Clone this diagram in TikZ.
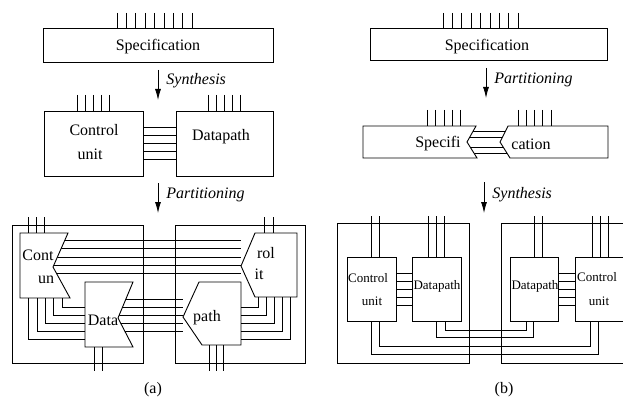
\documentclass[tikz,border=0pt]{standalone}
\usepackage{fontspec}
\setmainfont{Liberation Serif}
\newfontfamily\timesfont{Liberation Serif}
\usepackage{tikz}
\usetikzlibrary{arrows.meta}

\begin{document}
\begin{tikzpicture}[x=1pt,y=-1pt,line width=0.9pt,
    every node/.style={inner sep=0pt,font=\timesfont\fontsize{16}{18}\selectfont},
    box/.style={draw,fill=white},
    piece/.style={draw,fill=white},
    small/.style={font=\timesfont\fontsize{13}{15}\selectfont},
    lbl/.style={font=\timesfont\fontsize{16}{18}\selectfont\itshape,anchor=west,xshift=8pt},
    flow/.style={-{Latex[length=11pt,width=6pt]},line width=0.8pt}]

    \useasboundingbox (0,0) rectangle (623,406);
    \clip (0,0) rectangle (623,406);

    % (a) top
    \node[box,minimum width=230pt,minimum height=34pt] (specA) at (158,45) {};
    \node (specAt) at (158,47) {Specification};
    \foreach \x in {0,...,8}
        \draw (117+\x*9.4,13) -- (117+\x*9.4,28);
    \coordinate (synA) at (158,70);
    \draw[flow] (synA) -- ++(0,30) node[lbl,pos=0.35] (synAt) {Synthesis};

    \node[box,minimum width=99pt,minimum height=65pt] (cuA) at (93.5,143.5) {};
    \node[box,minimum width=97pt,minimum height=65pt] (dpA) at (224.5,143.5) {};
    \node (cuAt1) at (94,130) {Control};
    \node (cuAt2) at (90,154) {unit};
    \node (dpAt) at (221,137) {Datapath};
    \foreach \x in {0,...,4} {
        \draw (77+\x*8.2,95) -- (77+\x*8.2,111);
        \draw (208+\x*8,95) -- (208+\x*8,111);
    }
    \foreach \d in {-16,-8,0,8,16}
        \draw ([yshift=\d pt]cuA.east) -- ([yshift=\d pt]dpA.west);
    \coordinate (parA) at (158,183);
    \draw[flow] (parA) -- ++(0,30) node[lbl,pos=0.4] (parAt) {Partitioning};

    % (a) bottom
    \node[draw,minimum width=131pt,minimum height=138pt] (outA1) at (77.5,294) {};
    \node[draw,minimum width=130pt,minimum height=138pt] (outA2) at (240,294) {};
    \foreach \y in {240,248,257,265,273}
        \draw (53,\y) -- (241,\y);
    \foreach \y in {299,307,315,323,331}
        \draw (118,\y) -- (183,\y);
    \draw[piece] (20,233) -- (68,233) -- (53,267) -- (70,298) -- (20,298) -- cycle;
    \draw[piece] (85,282) -- (133,282) -- (118,318) -- (133,347) -- (85,347) -- cycle;
    \draw[piece] (255,233) -- (297,233) -- (297,297) -- (255,297) -- (241,266) -- cycle;
    \draw[piece] (199,282) -- (241,282) -- (241,345) -- (202,345) -- (183,317) -- cycle;
    \foreach \x/\y in {28/339,37/331,45/323,53/315,62/307}
        \draw (\x,298) |- (85,\y);
    \foreach \x/\y in {258/307,266/315,274/323,282/331,290/339}
        \draw (\x,297) |- (241,\y);
    \foreach \x in {28,36,44}
        \draw (\x,217) -- (\x,233);
    \foreach \x in {264,273}
        \draw (\x,217) -- (\x,233);
    \foreach \x in {94,102}
        \draw (\x,347) -- (\x,371);
    \foreach \x in {209,216,223}
        \draw (\x,345) -- (\x,371);
    \node (contA) at (38,255) {Cont};
    \node (unA) at (46,280) {un};
    \node (dataA) at (103,320) {Data};
    \node (rolA) at (266,253) {rol};
    \node (itA) at (259,274) {it};
    \node (pathA) at (207,318) {path};
    \node (capA) at (153,390) {(a)};

    % (b) top
    \node[box,minimum width=237pt,minimum height=32pt] (specB) at (488.5,44) {};
    \node (specBt) at (487,47) {Specification};
    \foreach \x in {0,...,8}
        \draw (443+\x*9.4,13) -- (443+\x*9.4,28);
    \coordinate (parB) at (486,68);
    \draw[flow] (parB) -- ++(0,30) node[lbl,pos=0.4] (parBt) {Partitioning};

    \foreach \y in {131,137,147,153}
        \draw (466,\y) -- (510,\y);
    \draw[piece] (363,126) -- (476,126) -- (467,142) -- (477,158) -- (363,158) -- cycle;
    \draw[piece] (508,126) -- (608,126) -- (608,158) -- (510,158) -- (500,142) -- cycle;
    \foreach \x in {427,435.5,444,452,460}
        \draw (\x,110) -- (\x,126);
    \foreach \x in {518,526.5,534.5,542.5,551}
        \draw (\x,110) -- (\x,126);
    \node (specifiB) at (438,144) {Specifi};
    \node (cationB) at (531,144) {cation};
    \coordinate (synB) at (484,182);
    \draw[flow] (synB) -- ++(0,31) node[lbl,pos=0.4] (synBt) {Synthesis};

    % (b) bottom
    \node[draw,minimum width=132pt,minimum height=140pt] (outB1) at (403,293) {};
    \node[draw,minimum width=132pt,minimum height=140pt] (outB2) at (567,293) {};
    \node[box,minimum width=49pt,minimum height=64pt] (cuB1) at (371.5,289) {};
    \node[box,minimum width=49pt,minimum height=64pt] (dpB1) at (436.5,289) {};
    \node[box,minimum width=48pt,minimum height=64pt] (dpB2) at (534,289) {};
    \node[box,minimum width=49pt,minimum height=64pt] (cuB2) at (599.5,289) {};
    \foreach \d in {-16,-8,0,8,16} {
        \draw ([yshift=\d pt]cuB1.east) -- ([yshift=\d pt]dpB1.west);
        \draw ([yshift=\d pt]dpB2.east) -- ([yshift=\d pt]cuB2.west);
    }
    \foreach \x in {371,379,428,436,444,534,542,592,600,608}
        \draw (\x,216) -- (\x,257);
    \draw (445,321) -- (445,330) -| (526,321);
    \draw (436,321) -- (436,337) -| (533,321);
    \draw (379,321) -- (379,346) -| (590,321);
    \draw (371,321) -- (371,354) -| (598,321);
    \node[small] (cuB1t1) at (368,278) {Control};
    \node[small] (cuB1t2) at (372,301) {unit};
    \node[small] (dpB1t) at (437,286) {Datapath};
    \node[small] (dpB2t) at (535,286) {Datapath};
    \node[small] (cuB2t1) at (597,277) {Control};
    \node[small] (cuB2t2) at (599,301) {unit};
    \node (capB) at (504,390) {(b)};
\end{tikzpicture}
\end{document}
